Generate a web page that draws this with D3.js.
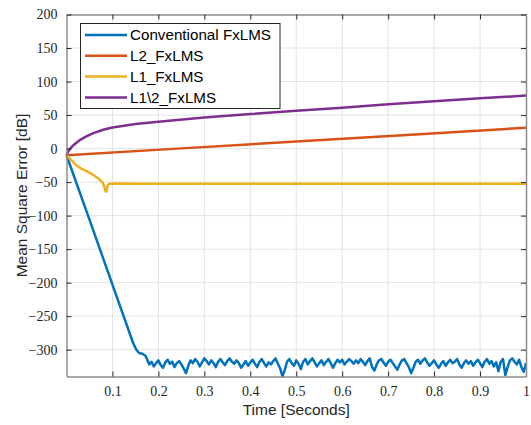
<!DOCTYPE html>
<html><head><meta charset="utf-8">
<script src="https://cdn.jsdelivr.net/npm/d3@7/dist/d3.min.js"></script>
<style>body{margin:0;background:#fff}svg{display:block}</style>
</head><body>
<svg id="c" width="531" height="425"></svg>
<script>
// ---- data ----
const seriesNames = ["Conventional FxLMS", "L2_FxLMS", "L1_FxLMS", "L1\\2_FxLMS"];
const seriesColors = ["#0072BD", "#D95319", "#EDB120", "#7E2F8E"];
const xTicks = [0.1,0.2,0.3,0.4,0.5,0.6,0.7,0.8,0.9,1];
const xTickLabels = ["0.1","0.2","0.3","0.4","0.5","0.6","0.7","0.8","0.9","1"];
const yTicks = [-300,-250,-200,-150,-100,-50,0,50,100,150,200];

// Conventional FxLMS: convergence part
const convHeadT = [0, 0.05, 0.1, 0.145, 0.152, 0.158, 0.165, 0.172];
const convHeadV = [-10, -106, -203, -290, -300, -305, -306, -309];
// Conventional FxLMS: steady-state part, sampled every 0.005 s from 0.175 s
const convTailStart = 0.175, convTailStep = 0.005;
const convTailV = [
 -314,-322,-318,-325,-320,-316,-323,-327,-319,-315,-321,-318,-326,-320,-317,-322,
 -328,-335,-324,-316,-320,-314,-318,-325,-319,-313,-317,-322,-316,-320,-326,-318,
 -314,-319,-323,-317,-313,-318,-321,-316,-320,-327,-322,-317,-324,-319,-315,-321,
 -326,-318,-314,-320,-325,-319,-322,-317,-313,-321,-328,-340,-330,-318,-314,-320,
 -324,-316,-321,-329,-318,-314,-322,-317,-313,-319,-325,-320,-316,-323,-318,-314,
 -320,-327,-320,-315,-319,-315,-322,-318,-314,-317,-321,-316,-320,-314,-318,-323,
 -317,-313,-326,-331,-322,-316,-314,-319,-324,-318,-315,-320,-325,-330,-322,-316,
 -314,-320,-326,-335,-327,-318,-315,-321,-316,-313,-319,-324,-320,-316,-322,-327,
 -321,-317,-324,-319,-315,-320,-318,-314,-322,-327,-320,-316,-321,-317,-324,-319,
 -315,-320,-326,-318,-314,-321,-317,-325,-319,-332,-318,-314,-338,-326,-316,-313,
 -318,-322,-315,-326,-333,-320
];
// L2_FxLMS
const l2T = [0, 0.25, 0.5, 0.75, 1];
const l2V = [-10, 0.3, 10.5, 20.8, 31];
// L1_FxLMS
const l1T = [0, 0.01, 0.02, 0.03, 0.045, 0.06, 0.07, 0.078, 0.082, 0.085, 0.087, 0.089, 0.092, 0.1, 0.2, 0.5, 1];
const l1V = [-10, -17, -24, -29, -34, -40, -45, -50, -56, -64, -64, -56, -53, -52, -52.5, -52.5, -52.5];
// L1\2_FxLMS
const l12T = [0, 0.003, 0.008, 0.015, 0.023, 0.03, 0.04, 0.05, 0.06, 0.08, 0.1, 0.15, 0.2, 0.3, 0.4, 0.5, 0.6, 0.7, 0.8, 0.9, 1.0];
const l12V = [-10, -5, 0, 5, 9.5, 13, 17, 20.5, 23.5, 28, 31.5, 36.5, 40, 46.5, 51.5, 56.5, 61, 66, 70.5, 75, 79];

// ---- build series ----
const convPts = convHeadT.map((t,i)=>[t, convHeadV[i]])
  .concat(convTailV.map((v,i)=>[convTailStart + i*convTailStep, v]));
const zip = (T,V)=>T.map((t,i)=>[t,V[i]]);
const series = [convPts, zip(l2T,l2V), zip(l1T,l1V), zip(l12T,l12V)];

// ---- layout ----
const svg = d3.select("#c");
const L = 66.5, R = 526, T = 14.5, B = 376.5;
const x = d3.scaleLinear().domain([0,1]).range([L,R]);
const y = d3.scaleLinear().domain([-340,200]).range([B,T]);
const serifFont = "Liberation Serif";
const sansFont = "Liberation Sans";

// grid
const g = svg.append("g");
g.selectAll("line.gx").data(xTicks.filter(d=>d<1)).join("line")
  .attr("x1",d=>x(d)).attr("x2",d=>x(d)).attr("y1",T).attr("y2",B)
  .attr("stroke","#e3e3e3").attr("stroke-width",1);
g.selectAll("line.gy").data(yTicks.filter(d=>d<200)).join("line")
  .attr("x1",L).attr("x2",R).attr("y1",d=>y(d)).attr("y2",d=>y(d))
  .attr("stroke","#e3e3e3").attr("stroke-width",1);

// lines
const line = d3.line().x(d=>x(d[0])).y(d=>y(d[1]));
const plot = svg.append("g");
[0,1,2,3].forEach(i=>{
  plot.append("path").datum(series[i]).attr("d",line)
    .attr("fill","none").attr("stroke",seriesColors[i]).attr("stroke-width",2.5)
    .attr("stroke-linejoin","round");
});

// axes (ticks inward)
const axB = d3.axisBottom(x).tickValues(xTicks).tickFormat((d,i)=>xTickLabels[i]).tickSizeInner(-5).tickSizeOuter(0).tickPadding(10);
const axT = d3.axisTop(x).tickValues(xTicks).tickFormat("").tickSizeInner(-5).tickSizeOuter(0);
const axLft = d3.axisLeft(y).tickValues(yTicks).tickSizeInner(-5).tickSizeOuter(0).tickPadding(9);
const axRgt = d3.axisRight(y).tickValues(yTicks).tickFormat("").tickSizeInner(-5).tickSizeOuter(0);
function styleAxis(sel){
  sel.attr("font-family",serifFont).attr("font-size",14);
  sel.select(".domain").attr("stroke","#8c8c8c").attr("stroke-width",1.5);
  sel.selectAll(".tick line").attr("stroke","#262626").attr("stroke-width",1);
  sel.selectAll(".tick text").attr("fill","#262626")
    .attr("font-family",serifFont).attr("font-size",14);
}
svg.append("g").attr("transform",`translate(0,${B})`).call(axB).call(styleAxis);
svg.append("g").attr("transform",`translate(0,${T})`).call(axT).call(styleAxis);
svg.append("g").attr("transform",`translate(${L},0)`).call(axLft).call(styleAxis);
svg.append("g").attr("transform",`translate(${R},0)`).call(axRgt).call(styleAxis);

// axis labels
svg.append("text").attr("x",(L+R)/2).attr("y",415).attr("text-anchor","middle")
  .attr("font-family",sansFont).attr("font-size",15.5).attr("fill","#262626").text("Time [Seconds]");
svg.append("text").attr("transform",`translate(27,${(T+B)/2}) rotate(-90)`).attr("text-anchor","middle")
  .attr("font-family",sansFont).attr("font-size",15.5).attr("fill","#262626").text("Mean Square Error [dB]");

// legend
const lg = svg.append("g");
lg.append("rect").attr("x",80.5).attr("y",23.5).attr("width",199.5).attr("height",85)
  .attr("fill","#fff").attr("stroke","#262626").attr("stroke-width",1);
seriesNames.forEach((n,i)=>{
  const yy = 35 + i*20.8;
  lg.append("line").attr("x1",85).attr("x2",127).attr("y1",yy).attr("y2",yy)
    .attr("stroke",seriesColors[i]).attr("stroke-width",2.5);
  lg.append("text").attr("x",130).attr("y",yy).attr("dy","0.35em")
    .attr("font-family",sansFont).attr("font-size",15.2).attr("fill","#000").text(n);
});
</script>
</body></html>
